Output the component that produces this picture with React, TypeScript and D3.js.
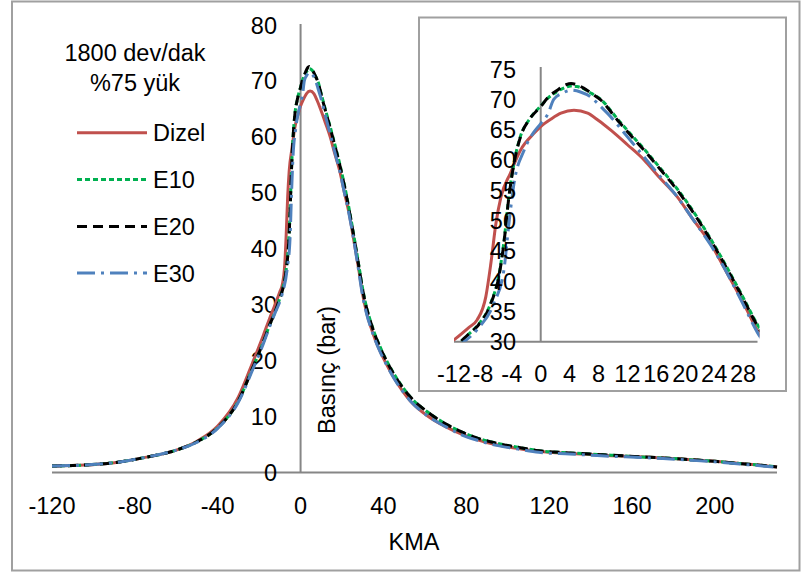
import React from "react";
import * as d3 from "d3";

// ---- data ----
const kmaDizel = [-120,-104,-89,-75,-60,-50,-40,-30,-23,-18,-15,-12,-10,-8.8,-7.6,-6.9,-6.2,-5.5,-4.2,-2.8,-1,0,1.5,2.8,4.6,6.5,8,9.7,12,14.3,16.5,18.9,21,23.5,25.8,28,30,32,34,36,38,41,45,53,61,70,78,85,94,105,115,130,140,150,164,175,188,200,212,222,230];
const pDizel = [1.15,1.35,1.8,2.7,4.0,5.6,8.3,13.5,19.8,24.5,27.5,30.3,32.3,33.6,37.4,42.9,49.5,53.9,57.8,61.6,64.3,65.5,66.8,67.7,68.2,67.7,66.5,64.9,62.5,60,57,53.9,50.3,46.2,41.3,36.5,31.8,28.4,25.9,23.8,22.0,19.7,17.0,12.8,10.2,8.2,6.8,5.9,5.0,4.3,3.8,3.4,3.2,3.0,2.8,2.6,2.3,2.0,1.6,1.3,1.0];

const kmaE10 = [-120,-104,-89,-75,-60,-50,-40,-30,-23,-18,-15,-12,-10,-8.8,-6.9,-5.8,-5.1,-4.4,-3.7,-2.8,-1.5,0,1,2.3,3.5,4.2,5,6,7,8.3,10.6,12.5,14.3,16.5,18.9,21,23.5,25.8,28.1,30,32,34,36,38,41,45,53,61,70,78,85,94,105,115,130,140,150,164,175,188,200,212,222,230];
const pE10 = [1.15,1.35,1.8,2.7,4.0,5.5,8.0,12.8,18.8,23.3,26.3,29.0,31.2,32.6,36.4,40.9,46.4,54.0,59.5,63.9,66.8,68.9,70.2,71.3,72.0,72.2,72.1,71.7,71.0,70.0,66.8,64.2,61.8,58.7,55.2,51.7,47.0,42.2,37.1,32.8,29.3,26.8,24.6,22.8,20.4,17.7,13.5,10.9,8.7,7.2,6.2,5.3,4.5,3.9,3.5,3.3,3.1,2.8,2.6,2.3,2.0,1.6,1.3,1.0];

const kmaE20 = [-120,-104,-89,-75,-60,-50,-40,-30,-23,-18,-15,-12,-10,-8.8,-6.9,-5.8,-5.1,-4.4,-3.7,-2.8,-1.5,0,1,2.3,3.5,4.2,5,6,7,8.3,10.6,12.5,14.3,16.5,18.9,21,23.5,25.8,28.1,30,32,34,36,38,41,45,53,61,70,78,85,94,105,115,130,140,150,164,175,188,200,212,222,230];
const pE20 = [1.15,1.35,1.8,2.7,4.0,5.5,8.0,12.8,18.8,23.3,26.3,29.0,31.2,32.5,36.3,40.7,46.2,53.9,59.4,63.8,66.8,68.8,70.3,71.5,72.4,72.6,72.4,71.8,71.0,69.9,66.6,64,61.6,58.5,55,51.5,46.8,42,36.9,32.6,29.2,26.7,24.5,22.7,20.3,17.6,13.5,10.9,8.7,7.2,6.2,5.3,4.5,3.9,3.5,3.3,3.1,2.8,2.6,2.3,2.0,1.6,1.3,1.0];

const kmaE30 = [-120,-104,-89,-75,-60,-50,-40,-30,-23,-18,-15,-12,-10.6,-8.8,-6.5,-5.1,-4.4,-3.7,-2.3,-1,0,1,1.8,3,4.2,5.5,6.9,8.3,9.7,12,14.3,16.5,18.9,21,23.5,25.8,28,30,32,34,36,38,41,45,53,61,70,78,85,94,105,115,130,140,150,164,175,188,200,212,222,230];
const pE30 = [1.15,1.35,1.8,2.7,4.0,5.4,7.9,12.6,18.5,23.0,26.0,28.8,30,32,36.3,41.8,49.5,56.1,61.6,64.5,66,67.6,70,71,71.5,71.2,70.4,68.8,67.1,63.8,60.5,57.3,53.9,50.3,46,41.3,36.2,31.5,28.2,25.8,23.7,21.9,19.6,16.9,12.8,10.2,8.2,6.7,5.8,4.9,4.2,3.6,3.3,3.1,2.9,2.7,2.5,2.2,1.9,1.5,1.2,0.9];

const seriesNames = ["Dizel", "E10", "E20", "E30"];
const mainXTicks = [-120, -80, -40, 0, 40, 80, 120, 160, 200];
const mainYTicks = [0, 10, 20, 30, 40, 50, 60, 70, 80];
const insetXTicks = [-12, -8, -4, 0, 4, 8, 12, 16, 20, 24, 28];
const insetYTicks = [30, 35, 40, 45, 50, 55, 60, 65, 70, 75];
const titleLines = ["1800 dev/dak", "%75 yük"];
const xTitle = "KMA";
const yTitle = "Basınç (bar)";

const styles = [
  { color: "#c0504d", dash: "none" },
  { color: "#00b050", dash: "5,3" },
  { color: "#000000", dash: "10,6" },
  { color: "#4f81bd", dash: "18,6,3,6" },
];

const FONT = "Liberation Sans, Arial, sans-serif";
const FS = 23.5;
const AXIS = "#868686";
const T = { fontFamily: FONT };

export default function App() {
  const series = [
    kmaDizel.map((k, i) => [k, pDizel[i]]),
    kmaE10.map((k, i) => [k, pE10[i]]),
    kmaE20.map((k, i) => [k, pE20[i]]),
    kmaE30.map((k, i) => [k, pE30[i]]),
  ] as [number, number][][];

  // main chart scales
  const x = d3.scaleLinear().domain([-120, 230]).range([52, 777]);
  const y = d3.scaleLinear().domain([0, 80]).range([472.5, 25]);
  const line = d3.line<[number, number]>().x(d => x(d[0])).y(d => y(d[1])).curve(d3.curveMonotoneX);

  // inset scales
  const ix = d3.scaleLinear().domain([-12, 30]).range([454, 757.5]);
  const iy = d3.scaleLinear().domain([30, 75]).range([341.7, 69]);
  const iline = d3.line<[number, number]>().x(d => ix(d[0])).y(d => iy(d[1])).curve(d3.curveMonotoneX);

  const legendY = [132.7, 179.5, 226.5, 273];

  return (
    <svg width={803} height={572} style={{ position: "absolute", left: 0, top: 0, fontFamily: FONT }}>
      <defs>
        <clipPath id="mainClip">
          <rect x={x(-120)} y={y(80) - 5} width={x(230) - x(-120) + 2} height={y(0) - y(80) + 5} />
        </clipPath>
        <clipPath id="insetClip">
          <rect x={ix(-12)} y={iy(75) - 4} width={ix(30) - ix(-12) + 2} height={iy(30) - iy(75) + 4} />
        </clipPath>
      </defs>
      <rect x={0} y={0} width={803} height={572} fill="#fff" />
      <rect x={12} y={1.5} width={787.5} height={569} fill="none" stroke="#a0a0a0" strokeWidth={2} />

      {/* main axes */}
      <line x1={x(-120)} x2={x(230)} y1={y(0)} y2={y(0)} stroke={AXIS} strokeWidth={2} />
      <line x1={x(0)} x2={x(0)} y1={y(0)} y2={y(80) - 1} stroke={AXIS} strokeWidth={2} />
      {mainXTicks.map(t => (
        <text key={"mx" + t} style={T} x={x(t)} y={513.5} fontSize={FS} textAnchor="middle">{t}</text>
      ))}
      {mainYTicks.map(t => (
        <text key={"my" + t} style={T} x={277} y={y(t) + 8.5} fontSize={FS} textAnchor="end">{t}</text>
      ))}
      <text style={T} x={414} y={550} fontSize={FS} textAnchor="middle">{xTitle}</text>
      <text style={T} transform={`translate(335,370) rotate(-90)`} fontSize={FS} textAnchor="middle">{yTitle}</text>

      {/* main series */}
      <g clipPath="url(#mainClip)">
        {series.map((s, i) => (
          <path key={"m" + i} d={line(s) || ""} fill="none" stroke={styles[i].color} strokeWidth={3}
            strokeDasharray={styles[i].dash} />
        ))}
      </g>

      {/* legend */}
      {titleLines.map((t, i) => (
        <text key={"t" + i} style={T} x={135} y={[60.5, 90.5][i]} fontSize={FS} textAnchor="middle">{t}</text>
      ))}
      {seriesNames.map((n, i) => (
        <g key={"l" + i}>
          <line x1={77} x2={147} y1={legendY[i]} y2={legendY[i]} stroke={styles[i].color} strokeWidth={3}
            strokeDasharray={styles[i].dash} />
          <text style={T} x={153} y={legendY[i] + 8.5} fontSize={FS}>{n}</text>
        </g>
      ))}

      {/* inset */}
      <rect x={419} y={17.5} width={367} height={373.5} fill="#fff" stroke="#a0a0a0" strokeWidth={2} />
      <line x1={ix(-12)} x2={ix(30)} y1={iy(30)} y2={iy(30)} stroke={AXIS} strokeWidth={2} />
      <line x1={ix(0)} x2={ix(0)} y1={iy(30)} y2={iy(75) - 2} stroke={AXIS} strokeWidth={2} />
      {insetXTicks.map(t => (
        <text key={"ix" + t} style={T} x={ix(t)} y={381.5} fontSize={FS} textAnchor="middle">{t}</text>
      ))}
      <g clipPath="url(#insetClip)">
        {series.map((s, i) => (
          <path key={"i" + i} d={iline(s) || ""} fill="none" stroke={styles[i].color} strokeWidth={3}
            strokeDasharray={styles[i].dash} />
        ))}
      </g>
      {insetYTicks.map(t => (
        <text key={"iy" + t} style={T} x={516} y={iy(t) + 8.5} fontSize={FS} textAnchor="end">{t}</text>
      ))}
    </svg>
  );
}
